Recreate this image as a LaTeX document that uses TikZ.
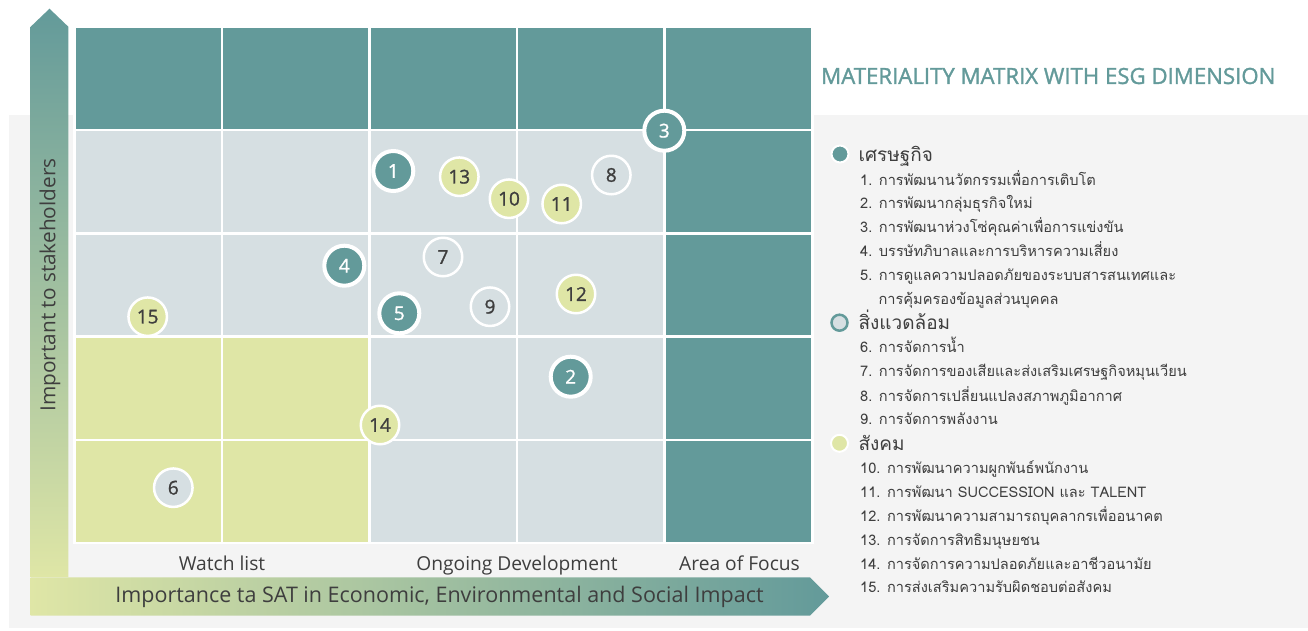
\documentclass[tikz,border=0pt]{standalone}
\usepackage{fontspec}
\setmainfont{Open Sans}
\newfontfamily\thaifont[Script=Thai]{Loma}
\newfontfamily\semib[FakeBold=1.2]{Open Sans}
\newfontfamily\titlef[FakeBold=1.4]{Open Sans}
\definecolor{tealc}{RGB}{99,154,154}
\definecolor{greyc}{RGB}{214,223,226}
\definecolor{yellowc}{RGB}{223,230,166}
\definecolor{bgc}{RGB}{244,244,244}
\definecolor{txt}{RGB}{62,62,62}
\tikzset{
  eco/.style={circle, fill=tealc, draw=white, line width=4pt, minimum size=40pt, inner sep=0pt, text=white, font=\semib\fontsize{19}{19}\selectfont},
  env/.style={circle, fill=greyc, draw=white, line width=2.5pt, minimum size=38.5pt, inner sep=0pt, text=txt, font=\semib\fontsize{19}{19}\selectfont},
  soc/.style={circle, fill=yellowc, draw=white, line width=2.5pt, minimum size=38.5pt, inner sep=0pt, text=txt, font=\semib\fontsize{19}{19}\selectfont},
  legitem/.style={anchor=base west, inner sep=0pt, text=txt, font=\thaifont\fontsize{14.6}{15}\selectfont},
  leghead/.style={anchor=base west, inner sep=0pt, text=txt, font=\thaifont\fontsize{19}{19}\selectfont},
  axlab/.style={text=txt, inner sep=0pt, font=\fontsize{19.2}{20}\selectfont}
}
\begin{document}
\begin{tikzpicture}[x=1pt,y=-1pt]
\useasboundingbox (0,0) rectangle (1308,630);
\fill[white] (0,0) rectangle (1308,630);
\fill[bgc] (9,115) rectangle (1308,628);
% axis arrows
\shade[top color=tealc, bottom color=yellowc] (30.7,577) -- (30.7,26.7) -- (49.5,8.7) -- (68.3,26.7) -- (68.3,577) -- cycle;
\shade[left color=yellowc, right color=tealc] (30.7,577.3) -- (810,577.3) -- (829,596.5) -- (810,615.7) -- (30.7,615.7) -- cycle;
% grid frame
\fill[white] (73,25.5) rectangle (813.5,544.3);
% cells
\foreach \c in {0,...,4} \fill[tealc] ({75.6+147.6*\c},28) rectangle ++(145,100.6);
\foreach \r in {1,...,4} \fill[tealc] (666,{28+103.3*\r}) rectangle ++(145,100.6);
\foreach \r in {1,2} \foreach \c in {0,...,3} \fill[greyc] ({75.6+147.6*\c},{28+103.3*\r}) rectangle ++(145,100.6);
\foreach \r in {3,4} \foreach \c in {0,1} \fill[yellowc] ({75.6+147.6*\c},{28+103.3*\r}) rectangle ++(145,100.6);
\foreach \r in {3,4} \foreach \c in {2,3} \fill[greyc] ({75.6+147.6*\c},{28+103.3*\r}) rectangle ++(145,100.6);
% axis labels
\node[axlab, rotate=90, font=\fontsize{20.8}{21}\selectfont] (ylab) at (50,285) {Important to stakeholders};
\node[axlab, font=\fontsize{21.5}{22}\selectfont] (xlab) at (439.5,597) {Importance ta SAT in Economic, Environmental and Social Impact};
\node[axlab, anchor=base] (wl) at (222,570) {Watch list};
\node[axlab, anchor=base] (od) at (517,570) {Ongoing Development};
\node[axlab, anchor=base] (af) at (739.5,570) {Area of Focus};
% title
\node[anchor=west, inner sep=0pt, text=tealc, font=\titlef\fontsize{22.2}{22}\selectfont] (title) at (821,76) {MATERIALITY MATRIX WITH ESG DIMENSION};
% bubbles
\node[eco] (c1) at (393.3,171) {1};
\node[eco] (c2) at (570.7,376.7) {2};
\node[eco] (c3) at (664.3,130.7) {3};
\node[eco] (c4) at (344.3,265.7) {4};
\node[eco] (c5) at (399.3,313.3) {5};
\node[env] (c6) at (173.3,487.7) {6};
\node[env] (c7) at (443,257) {7};
\node[env] (c8) at (611.3,175) {8};
\node[env] (c9) at (490,306.7) {9};
\node[soc] (c10) at (509,198.7) {10};
\node[soc] (c11) at (561.7,204) {11};
\node[soc] (c12) at (576,294) {12};
\node[soc] (c13) at (459.3,176.7) {13};
\node[soc] (c14) at (380,425) {14};
\node[soc] (c15) at (147.7,316.7) {15};
% legend
\node[circle, fill=tealc, draw=white, line width=2pt, minimum size=17pt, inner sep=0pt] (b1) at (840,154) {};
\node[circle, fill=greyc, draw=tealc, line width=2.5pt, minimum size=16pt, inner sep=0pt] (b2) at (839.5,322.7) {};
\node[circle, fill=yellowc, draw=white, line width=2pt, minimum size=17pt, inner sep=0pt] (b3) at (839.5,443.3) {};
\node[leghead] (h1) at (858.3,161) {เศรษฐกิจ};
\node[legitem] (i1) at (860,185.3) {1. การพัฒนานวัตกรรมเพื่อการเติบโต};
\node[legitem] (i2) at (860,208.7) {2. การพัฒนากลุ่มธุรกิจใหม่};
\node[legitem] (i3) at (860,232.7) {3. การพัฒนาห่วงโซ่คุณค่าเพื่อการแข่งขัน};
\node[legitem] (i4) at (860,256.7) {4. บรรษัทภิบาลและการบริหารความเสี่ยง};
\node[legitem] (i5) at (860,280) {5. การดูแลความปลอดภัยของระบบสารสนเทศและ};
\node[legitem] (i5b) at (878.3,304.3) {การคุ้มครองข้อมูลส่วนบุคคล};
\node[leghead] (h2) at (858.3,329.7) {สิ่งแวดล้อม};
\node[legitem] (i6) at (860,352.7) {6. การจัดการน้ำ};
\node[legitem] (i7) at (860,376.7) {7. การจัดการของเสียและส่งเสริมเศรษฐกิจหมุนเวียน};
\node[legitem] (i8) at (860,401) {8. การจัดการเปลี่ยนแปลงสภาพภูมิอากาศ};
\node[legitem] (i9) at (860,424.3) {9. การจัดการพลังงาน};
\node[leghead] (h3) at (858.3,450.3) {สังคม};
\node[legitem] (i10) at (860,473.3) {10. การพัฒนาความผูกพันธ์พนักงาน};
\node[legitem] (i11) at (860,497.7) {11. การพัฒนา SUCCESSION และ TALENT};
\node[legitem] (i12) at (860,521) {12. การพัฒนาความสามารถบุคลากรเพื่ออนาคต};
\node[legitem] (i13) at (860,545.3) {13. การจัดการสิทธิมนุษยชน};
\node[legitem] (i14) at (860,569.3) {14. การจัดการความปลอดภัยและอาชีวอนามัย};
\node[legitem] (i15) at (860,592.7) {15. การส่งเสริมความรับผิดชอบต่อสังคม};
\end{tikzpicture}
\end{document}
